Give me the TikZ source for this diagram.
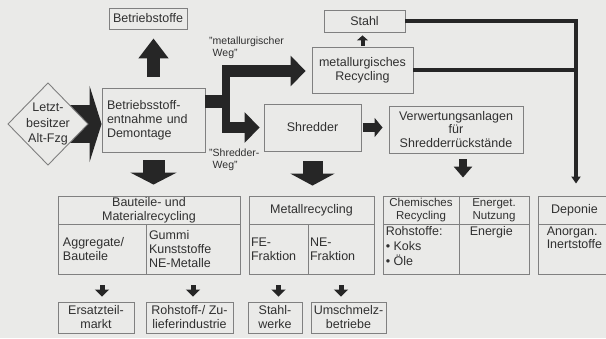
\documentclass[tikz,border=0pt]{standalone}
\usepackage{fontspec}
\setmainfont{Liberation Sans}
\usetikzlibrary{arrows.meta,calc}
\definecolor{paper}{RGB}{234,234,232}
\definecolor{ink}{RGB}{48,48,48}
\definecolor{rulec}{RGB}{128,128,128}
\definecolor{blk}{RGB}{38,38,38}
\begin{document}
\begin{tikzpicture}[x=1pt,y=-1pt,
  every node/.style={text=ink,font=\fontsize{12.5}{14}\selectfont},
  box/.style={draw=rulec,line width=0.9pt,inner sep=0pt,align=center},
  cell/.style={box,minimum height=#1},
  lab/.style={font=\fontsize{10.5}{11.5}\selectfont,align=left,inner sep=0pt},
  fat/.style={draw=blk,line width=#1,line cap=butt,line join=miter},
  small/.style={fat=5pt,-{Triangle[length=7pt,width=14pt]}}
]
\fill[paper] (0,0) rectangle (606,338);
\useasboundingbox (0,0) rectangle (606,338);

% --- upper part: dismantling
\node[box,minimum width=78pt,minimum height=21pt] (betr) at (148,18.5) {Betriebstoffe};
\node[box,align=left,text width=93pt,inner xsep=5pt,minimum height=64pt] (demont) at (153.5,120)
  {Betriebsstoff-\\entnahme und\\Demontage};
\node[align=center,inner sep=0pt] (last) at (48,124) {};

% broad arrow from the last owner into dismantling (drawn under the diamond)
\draw[fat=38pt,-{Triangle[length=12pt,width=76pt]}] (last.center) -- (demont.west |- last.center);
\filldraw[fill=paper,draw=rulec,line width=0.9pt]
  ($(last)+(-40,0)$) -- ($(last)+(0,-41)$) -- ($(last)+(40,0)$) -- ($(last)+(0,41)$) -- cycle;
\node[align=center,inner sep=0pt,font=\fontsize{12.5}{15.5}\selectfont] at (last) {Letzt-\\besitzer\\Alt-Fzg};

\draw[fat=13pt,-{Triangle[length=20pt,width=29pt]},shorten <=11pt,shorten >=9pt]
  (demont.north) -- (demont.north |- betr.south);

% --- metallurgical and shredder routes
\node[box,minimum width=81pt,minimum height=22pt] (stahl) at (364.5,21) {Stahl};
\node[box,minimum width=101pt,minimum height=46pt] (metall) at (362.5,70) {metallurgisches\\Recycling};
\node[box,minimum width=97pt,minimum height=47pt] (shred) at (312.5,127.5) {Shredder};
\node[box,minimum width=134pt,minimum height=47pt,font=\fontsize{12.5}{13.5}\selectfont] (verw) at (456,129.5)
  {Verwertungsanlagen\\für\\Shredderrückstände};

\coordinate (sp) at (226,101.5);
\coordinate (up) at (222,71);
\coordinate (dn) at (222,127.5);
\draw[fat=13pt] (demont.east |- sp) -- (sp);
\draw[fat=8pt] (226,65) -- (226,133);
\draw[fat=12pt,-{Triangle[length=15pt,width=30pt]},shorten >=6pt] (up) -- (up -| metall.west);
\draw[fat=11pt,-{Triangle[length=15pt,width=30pt]},shorten >=4pt] (dn) -- (dn -| shred.west);

\node[lab,anchor=north west] (mw) at (209,37) {"metallurgischer\\\hphantom{"}Weg"};
\node[lab,anchor=north west] (sw) at (209,149) {"Shredder-\\\hphantom{"}Weg"};

\draw[fat=4pt,-{Triangle[length=5pt,width=11pt]},shorten <=1pt,shorten >=3pt]
  (metall.north) -- (metall.north |- stahl.south);
\draw[fat=9pt,-{Triangle[length=8pt,width=19pt]},shorten <=2pt,shorten >=6pt]
  (shred.east) -- (shred.east -| verw.west);

% --- recycling paths, header row and cell row
\node[cell=28pt,minimum width=182pt] (bauH) at (149,210) {Bauteile- und\\Materialrecycling};
\node[cell=50pt,minimum width=88pt,text width=78pt,align=left,inner xsep=5pt] (bauA) at (102,249) {Aggregate/\\Bauteile};
\node[cell=50pt,minimum width=94pt,text width=88pt,align=left,inner xsep=3pt] (bauG) at (193,249) {Gummi\\Kunststoffe\\NE-Metalle};

\node[cell=28pt,minimum width=125pt] (metH) at (311.5,210) {Metallrecycling};
\node[cell=50pt,minimum width=59pt,text width=55pt,align=left,inner xsep=2pt] (metF) at (278.5,249) {FE-\\Fraktion};
\node[cell=50pt,minimum width=66pt,text width=62pt,align=left,inner xsep=2pt] (metN) at (341,249) {NE-\\Fraktion};

\node[cell=28pt,minimum width=76pt,font=\fontsize{11.5}{12.5}\selectfont] (chemH) at (421,210) {Chemisches\\Recycling};
\node[cell=28pt,minimum width=70pt,font=\fontsize{11.5}{12.5}\selectfont] (enH) at (494,210) {Energet.\\Nutzung};
\node[cell=50pt,minimum width=76pt] (chemA) at (421,249) {};
\node[cell=50pt,minimum width=70pt] (enE) at (494,249) {};
\node[anchor=north west,align=left,inner sep=0pt,font=\fontsize{12.5}{15}\selectfont] (roh) at ($(chemA.north west)+(3,3)$)
  {Rohstoffe:\\• Koks\\• Öle};
\node[anchor=north west,inner sep=0pt] (ene) at ($(enE.north west)+(11,3)$) {Energie};

\node[cell=28pt,minimum width=73pt] (depH) at (574.5,210) {Deponie};
\node[cell=50pt,minimum width=73pt] (depL) at (574.5,249) {};
\node[anchor=north west,align=left,inner sep=0pt,font=\fontsize{12.5}{13}\selectfont] (inert) at ($(depL.north west)+(9,3)$)
  {Anorgan.\\Inertstoffe};

\draw[fat=22pt,-{Triangle[length=12pt,width=46pt]},shorten <=8pt,shorten >=11pt]
  (demont.south) -- (demont.south |- bauH.north);
\draw[fat=20pt,-{Triangle[length=12pt,width=44pt]},shorten <=10pt,shorten >=10pt]
  (shred.south) -- (shred.south |- metH.north);
\coordinate (v3) at ($(verw.south)+(7,0)$);
\draw[fat=8pt,-{Triangle[length=11pt,width=18pt]},shorten <=6pt,shorten >=18pt]
  (v3) -- (v3 |- chemH.north);

% steel and metallurgical residues to landfill
\coordinate (rj) at (576,21);
\draw[fat=3.5pt] (metall.east) -- (metall.east -| rj);
\draw[fat=3.5pt,-{Triangle[length=7pt,width=9pt]},shorten >=12pt]
  (stahl.east) -- (rj) -- (rj |- depH.north);

% --- end users
\node[box,minimum width=76pt,minimum height=31pt] (ers) at (96,317.5) {Ersatzteil-\\markt};
\node[box,minimum width=87pt,minimum height=31pt] (rohi) at (189.5,317.5) {Rohstoff-/ Zu-\\lieferindustrie};
\node[box,minimum width=54pt,minimum height=31pt] (stw) at (275,317.5) {Stahl-\\werke};
\node[box,minimum width=75pt,minimum height=31pt] (ums) at (348.5,317.5) {Umschmelz-\\betriebe};

\draw[small,shorten <=11pt,shorten >=5pt] (bauA.south) -- (bauA.south |- ers.north);
\draw[small,shorten <=11pt,shorten >=5pt] (bauG.south) -- (bauG.south |- rohi.north);
\draw[small,shorten <=11pt,shorten >=5pt] (metF.south) -- (metF.south |- stw.north);
\draw[small,shorten <=11pt,shorten >=5pt] (metN.south) -- (metN.south |- ums.north);
\end{tikzpicture}
\end{document}
